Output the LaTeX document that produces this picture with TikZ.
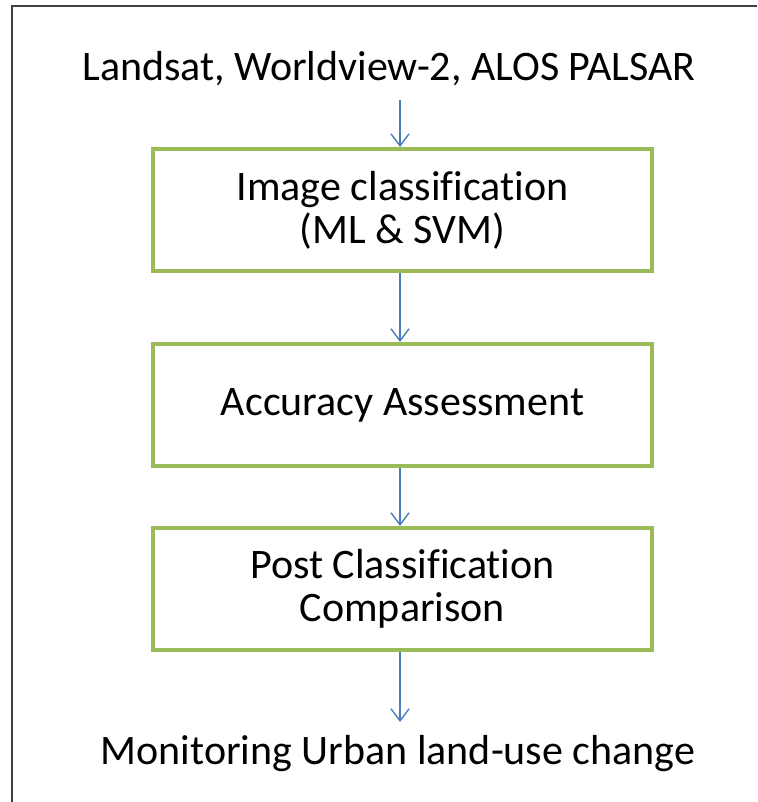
\documentclass[tikz,border=0pt]{standalone}
\usepackage{fontspec}
\setmainfont{Carlito}[Ligatures=NoCommon]
\usetikzlibrary{arrows.meta}
\definecolor{boxgreen}{HTML}{9BBB59}
\definecolor{arrowblue}{HTML}{4A7EBB}
\definecolor{framegray}{HTML}{404040}
\begin{document}
\begin{tikzpicture}[x=1pt,y=-1pt,
  stepbox/.style={draw=boxgreen,line width=4pt,minimum width=499pt,minimum height=122pt,inner sep=0pt,align=center,font=\fontsize{42}{43}\selectfont},
  label/.style={inner sep=0pt,anchor=base,font=\fontsize{42}{43}\selectfont},
  flow/.style={draw=arrowblue,line width=1.4pt,-{Straight Barb[length=12pt,width=18pt,line width=1.4pt]}}]
\useasboundingbox (0,0) rectangle (757,802);
\draw[framegray,line width=2.2pt] (12,802) -- (12,6) -- (757,6);
\node[label] (src) at (389,81) {Landsat, Worldview-2, ALOS PALSAR};
\node[stepbox] (b1) at (402.5,210) {Image classification\\(ML \& SVM)};
\node[stepbox] (b2) at (402.5,405) {Accuracy Assessment};
\node[stepbox] (b3) at (402.5,589) {Post Classification\\Comparison};
\node[label] (out) at (398,764) {Monitoring Urban land-use change};
\coordinate (s0) at (400,100);
\coordinate (e4) at (400,722);
\draw[flow] (s0) -- (s0 |- b1.north);
\draw[flow] (s0 |- b1.south) -- (s0 |- b2.north);
\draw[flow] (s0 |- b2.south) -- (s0 |- b3.north);
\draw[flow] (s0 |- b3.south) -- (e4);
\end{tikzpicture}
\end{document}
